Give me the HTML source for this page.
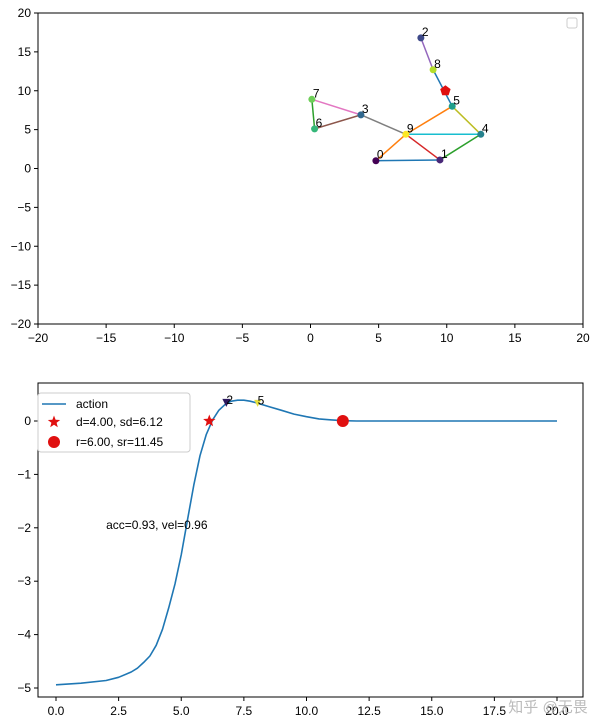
<!DOCTYPE html>
<html><head><meta charset="utf-8"><style>
html,body{margin:0;padding:0;background:#fff;}
svg{display:block;font-family:"Liberation Sans","DejaVu Sans","Noto Sans CJK SC",sans-serif;}
</style></head><body>
<svg id="fig" width="600" height="725" viewBox="0 0 600 725">
<g id="top"></g>
<g id="bot"></g>
<text x="548" y="712" font-size="15" fill="#bbb" text-anchor="middle">知乎 @无畏</text>
</svg>
<script>
// ---- Top chart data ----
const nodeX = [4.8, 9.5, 8.1, 3.7, 12.5, 10.4, 0.3, 0.1, 9.0, 7.0];
const nodeY = [1.0, 1.1, 16.8, 6.9, 4.4, 8.0, 5.1, 8.9, 12.7, 4.4];
const edgeFrom = [0, 9, 1, 9, 8, 3, 3, 3, 4, 9, 5, 5, 6];
const edgeTo   = [1, 0, 4, 1, 2, 6, 7, 9, 5, 4, 8, 9, 7];
const targetPt = [9.9, 10.0];
const topTicks = [-20, -15, -10, -5, 0, 5, 10, 15, 20];
// ---- Bottom chart data ----
const actX = [0,1,2,2.5,3,3.25,3.5,3.75,4,4.25,4.5,4.75,5,5.25,5.5,5.75,6,6.25,6.5,6.75,7,7.25,7.5,7.75,8,8.5,9,9.5,10,10.5,11,11.5,12,14,20];
const actY = [-4.94,-4.91,-4.86,-4.8,-4.7,-4.63,-4.52,-4.4,-4.2,-3.9,-3.5,-3.05,-2.5,-1.85,-1.2,-0.65,-0.25,0.02,0.2,0.31,0.37,0.39,0.39,0.37,0.34,0.27,0.2,0.13,0.08,0.04,0.02,0.005,0,0,0];
const starPt = [6.12, 0];
const circlePt = [11.45, 0];
const tri2 = [6.8, 0.34];
const mark5 = [8.05, 0.33];
const botXTicks = [0, 2.5, 5, 7.5, 10, 12.5, 15, 17.5, 20];
const botYTicks = [0, -1, -2, -3, -4, -5];

const NS = "http://www.w3.org/2000/svg";
const tab = ["#1f77b4","#ff7f0e","#2ca02c","#d62728","#9467bd","#8c564b","#e377c2","#7f7f7f","#bcbd22","#17becf"];
const vir = ["#440154","#482878","#3e4989","#31688e","#26828e","#1f9e89","#35b779","#6ece58","#b5de2b","#fde725"];
function mk(p, tag, attrs){const e=document.createElementNS(NS,tag);for(const k in attrs)e.setAttribute(k,attrs[k]);p.appendChild(e);return e;}

// Top axes
const T = document.getElementById('top');
const tx = v => 310.5 + v*13.625;
const ty = v => 168.5 - v*7.775;
topTicks.forEach(t=>{
  const l1=mk(T,'line',{x1:tx(t),x2:tx(t),y1:324,y2:328,stroke:'#000'});
  
  
  const a=mk(T,'text',{x:tx(t),y:342,'font-size':12,'text-anchor':'middle'});a.textContent=String(t).replace('-','−');
  
  
  const l2=mk(T,'line',{x1:34,x2:38,y1:ty(t),y2:ty(t),stroke:'#000'});
  
  
  const b=mk(T,'text',{x:31,y:ty(t)+4,'font-size':12,'text-anchor':'end'});b.textContent=String(t).replace('-','−');
  
  
});
edgeFrom.forEach((f,i)=>{
  const e=mk(T,'line',{x1:tx(nodeX[f]),y1:ty(nodeY[f]),x2:tx(nodeX[edgeTo[i]]),y2:ty(nodeY[edgeTo[i]]),stroke:tab[i%10],'stroke-width':1.5});
  
  
});
nodeX.forEach((x,i)=>{
  const c=mk(T,'circle',{cx:tx(x),cy:ty(nodeY[i]),r:3.5,fill:vir[i]});
  
  
  const t=mk(T,'text',{x:tx(x)+1,y:ty(nodeY[i])-2,'font-size':12});t.textContent=i;
  
  
});
{
  const cx=tx(targetPt[0]), cy=ty(targetPt[1]); let pts=[];
  for(let k=0;k<5;k++){const a=-Math.PI/2+k*2*Math.PI/5;pts.push((cx+5.5*Math.cos(a)).toFixed(1)+','+(cy+5.5*Math.sin(a)).toFixed(1));}
  const p=mk(T,'polygon',{points:pts.join(' '),fill:'#e01010'});
  
  
}
const tf=mk(T,'rect',{x:38,y:13,width:545,height:311,fill:'none',stroke:'#000'});


const tl=mk(T,'rect',{x:567,y:18,width:10,height:10,fill:'#fff',stroke:'#ccc',rx:2});



// Bottom axes
const B = document.getElementById('bot');
const bx = v => 56 + v*25.05;
const by = v => 421 - v*53.4;
botXTicks.forEach(t=>{
  const l=mk(B,'line',{x1:bx(t),x2:bx(t),y1:697,y2:701,stroke:'#000'});
  
  
  const a=mk(B,'text',{x:bx(t),y:715,'font-size':12,'text-anchor':'middle'});a.textContent=t.toFixed(1);
  
  
});
botYTicks.forEach(t=>{
  const l=mk(B,'line',{x1:34,x2:38,y1:by(t),y2:by(t),stroke:'#000'});
  
  
  const b=mk(B,'text',{x:31,y:by(t)+4,'font-size':12,'text-anchor':'end'});b.textContent=String(t).replace('-','−');
  
  
});
const line=mk(B,'polyline',{points:actX.map((x,i)=>bx(x).toFixed(1)+','+by(actY[i]).toFixed(1)).join(' '),fill:'none',stroke:'#1f77b4','stroke-width':1.6,'stroke-linejoin':'round'});


function star(g,cx,cy,R){let p=[];for(let k=0;k<10;k++){const r=k%2?R*0.42:R;const a=-Math.PI/2+k*Math.PI/5;p.push((cx+r*Math.cos(a)).toFixed(1)+','+(cy+r*Math.sin(a)).toFixed(1));}return mk(g,'polygon',{points:p.join(' '),fill:'#e01010'});}
const s=star(B,bx(starPt[0]),by(starPt[1]),6.5);


const cc=mk(B,'circle',{cx:bx(circlePt[0]),cy:by(circlePt[1]),r:6,fill:'#e01010'});


{
  const x=bx(tri2[0]),y=by(tri2[1]);
  const tr=mk(B,'polygon',{points:`${x-4},${y-4} ${x+4},${y-4} ${x},${y+4}`,fill:'#2d1a5e'});
  
  
  const t=mk(B,'text',{x:x,y:y+1,'font-size':12});t.textContent='2';
  
  
  const x5=bx(mark5[0]),y5=by(mark5[1]);
  const m5=mk(B,'polygon',{points:`${x5-3.5},${y5-3.5} ${x5+3.5},${y5-3.5} ${x5},${y5+3.5}`,fill:'#e6e040'});
  
  
  const t5=mk(B,'text',{x:x5,y:y5+1,'font-size':12});t5.textContent='5';
  
  
}
const ann=mk(B,'text',{x:bx(2),y:by(-2)+1,'font-size':12});ann.textContent='acc=0.93, vel=0.96';


const bf=mk(B,'rect',{x:38,y:383,width:545,height:314,fill:'none',stroke:'#000'});


// legend
const lg=mk(B,'g',{});


mk(lg,'rect',{x:38,y:393,width:152,height:59,fill:'#fff',stroke:'#ccc',rx:3,'fill-opacity':0.8});
mk(lg,'line',{x1:42,x2:66,y1:404,y2:404,stroke:'#1f77b4','stroke-width':1.6});
const l1=mk(lg,'text',{x:76,y:408,'font-size':12});l1.textContent='action';


star(lg,54,422,6.5);
const l2=mk(lg,'text',{x:76,y:426,'font-size':12});l2.textContent='d=4.00, sd=6.12';


mk(lg,'circle',{cx:54,cy:442,r:6,fill:'#e01010'});
const l3=mk(lg,'text',{x:76,y:446,'font-size':12});l3.textContent='r=6.00, sr=11.45';


</script>
</body></html>
